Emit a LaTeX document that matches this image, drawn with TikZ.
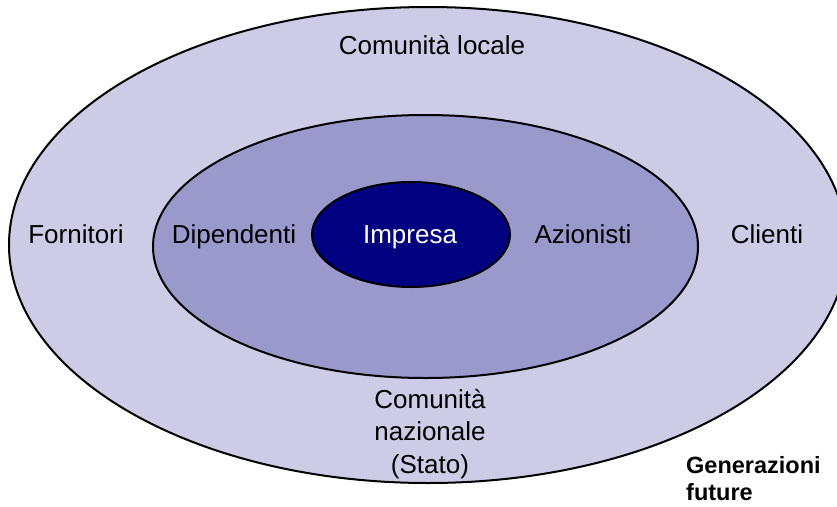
\documentclass[tikz,border=0pt]{standalone}
\usepackage{fontspec}
\setmainfont{Liberation Sans}
\usetikzlibrary{shapes.geometric}
\definecolor{outerfill}{RGB}{204,204,230}
\definecolor{midfill}{RGB}{153,153,204}
\definecolor{innerfill}{RGB}{0,0,128}
\tikzset{
  ring/.style={ellipse, draw=black, line width=2pt, inner sep=0pt},
  lbl/.style={font=\fontsize{26}{32.5}\selectfont, inner sep=0pt, anchor=base},
  note/.style={font=\fontsize{23.5}{27}\selectfont\bfseries, inner sep=0pt, align=left, anchor=north west}
}
\begin{document}
\begin{tikzpicture}[x=1pt,y=-1pt]
\useasboundingbox (0,0) rectangle (837,506);
\fill[white] (0,0) rectangle (837,506);
\begin{scope}
\clip (0,0) rectangle (837,506);
\node[ring, fill=outerfill, minimum width=838pt, minimum height=476pt] (outer) at (428,245) {};
\end{scope}
\node[ring, fill=midfill, minimum width=545pt, minimum height=263pt] (mid) at (425.5,246.5) {};
\node[ring, fill=innerfill, minimum width=198pt, minimum height=105pt] (inner) at (411,234.5) {};
\node[lbl] (loc) at (432,54) {Comunità locale};
\node[lbl] (forn) at (76,243) {Fornitori};
\node[lbl] (dip) at (234,243) {Dipendenti};
\node[lbl, text=white] (imp) at (410,243) {Impresa};
\node[lbl] (az) at (583,243) {Azionisti};
\node[lbl] (cli) at (767,243) {Clienti};
\node[lbl, align=center, anchor=north] (naz) at (430,389) {Comunità\\nazionale\\(Stato)};
\node[note] (gen) at (686,456) {Generazioni\\future};
\end{tikzpicture}
\end{document}
